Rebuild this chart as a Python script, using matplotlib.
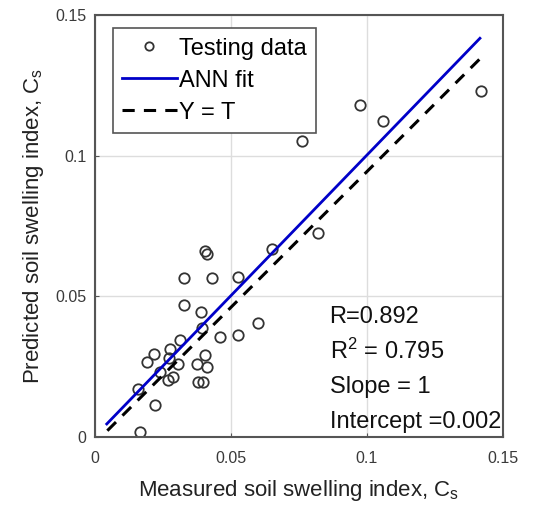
import numpy as np
import matplotlib
matplotlib.use('Agg')
import matplotlib.pyplot as plt

plt.rcParams['font.family'] = ['Liberation Sans', 'DejaVu Sans']
plt.rcParams['mathtext.fontset'] = 'custom'
plt.rcParams['mathtext.rm'] = 'Liberation Sans'
plt.rcParams['mathtext.it'] = 'Liberation Sans'

# testing data (measured, predicted)
measured = [0.0404, 0.0412, 0.0327, 0.0430, 0.0526, 0.0651, 0.0327, 0.0390,
            0.0393, 0.0460, 0.0526, 0.0599, 0.0313, 0.0276, 0.0217, 0.0191,
            0.0272, 0.0305, 0.0404, 0.0375, 0.0412, 0.0239, 0.0268, 0.0287,
            0.0379, 0.0397, 0.0158, 0.0221, 0.0165,
            0.0761, 0.0974, 0.1059, 0.1419, 0.0820]
predicted = [0.0661, 0.0650, 0.0564, 0.0564, 0.0568, 0.0668, 0.0468, 0.0446,
             0.0386, 0.0357, 0.0364, 0.0404, 0.0346, 0.0314, 0.0296, 0.0268,
             0.0279, 0.0261, 0.0293, 0.0261, 0.0250, 0.0232, 0.0204, 0.0214,
             0.0196, 0.0196, 0.0171, 0.0114, 0.0018,
             0.1054, 0.1182, 0.1125, 0.1232, 0.0725]

# fit lines (end points)
fit_x = [0.0044, 0.1415]
fit_y = [0.0046, 0.1418]
yt_x = [0.0046, 0.1415]
yt_y = [0.0022, 0.1345]

ticks = [0, 0.05, 0.1, 0.15]
tick_labels = ['0', '0.05', '0.1', '0.15']
stats = ['R=0.892', 'R$^2$ = 0.795', 'Slope = 1', 'Intercept =0.002']

fig = plt.figure(figsize=(5.48, 5.08), dpi=100)
ax = fig.add_axes([0.173, 0.140, 0.745, 0.830])

ax.plot(measured, predicted, 'o', ms=7.5, mfc='none', mec='#333333', mew=1.3,
        label='Testing data')
ax.plot(fit_x, fit_y, '-', color='#0000c8', lw=2, label='ANN fit')
ax.plot(yt_x, yt_y, '--', color='black', lw=2.2, dashes=(4, 3), label='Y = T')

ax.set_xlim(0, 0.15)
ax.set_ylim(0, 0.15)
ax.set_xticks(ticks)
ax.set_xticklabels(tick_labels)
ax.set_yticks(ticks)
ax.set_yticklabels(tick_labels)
ax.tick_params(direction='in', length=3, colors='#555555', labelsize=11.5,
               labelcolor='#3a3a3a')
ax.tick_params(axis='x', pad=10)
ax.tick_params(axis='y', pad=6)
ax.grid(True, color='#dddddd', lw=1)
ax.set_axisbelow(True)
for sp in ax.spines.values():
    sp.set_color('#555555')
    sp.set_linewidth(1.5)

ax.set_xlabel('Measured soil swelling index, C$_\\mathrm{s}$', fontsize=16,
              labelpad=9, color='#222222')
ax.set_ylabel('Predicted soil swelling index, C$_\\mathrm{s}$', fontsize=16,
              labelpad=7, color='#222222')

leg = ax.legend(loc='upper left', bbox_to_anchor=(0.044, 0.969), borderaxespad=0,
                fontsize=17, fancybox=False, edgecolor='#555555', framealpha=1,
                handlelength=2.3, handletextpad=0.1, borderpad=0.4,
                labelspacing=0.42, markerscale=0.8)
leg.get_frame().set_linewidth(1.2)

for i, s in enumerate(stats):
    ax.text(0.575, 0.285 - i * 0.083, s, transform=ax.transAxes, fontsize=17,
            va='center', ha='left', color='#111111')

fig.savefig('out.png', dpi=100)
